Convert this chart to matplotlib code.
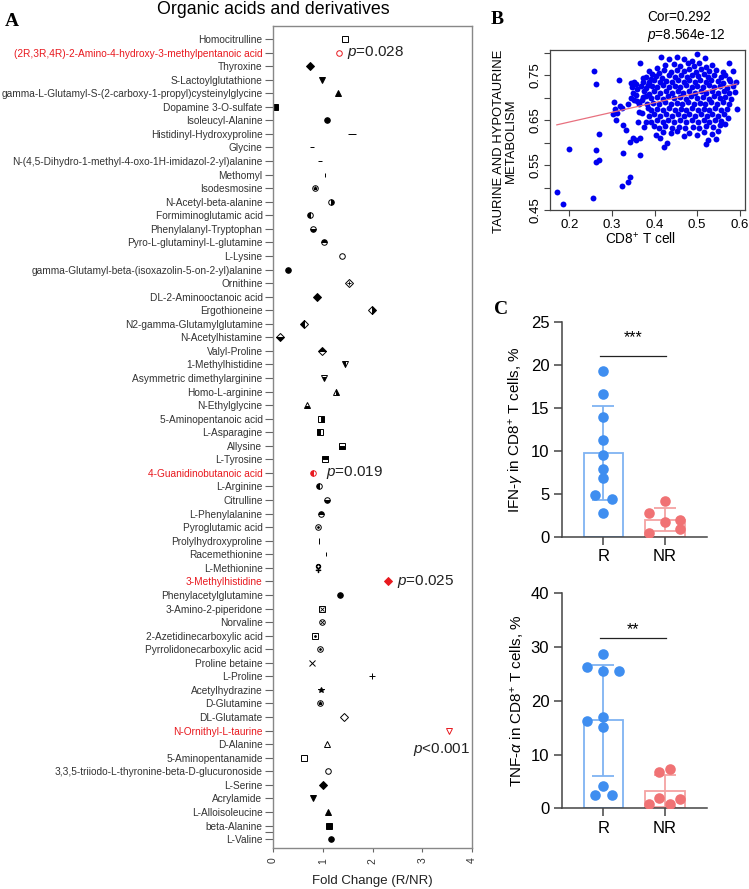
import numpy as np
import matplotlib
matplotlib.use('Agg')
import matplotlib.pyplot as plt

plt.rcParams['font.family'] = ['Liberation Sans', 'DejaVu Sans']
plt.rcParams['mathtext.fontset'] = 'custom'
plt.rcParams['mathtext.rm'] = 'Liberation Sans'
plt.rcParams['mathtext.it'] = 'Liberation Sans:italic'

# ---- panel A data ----
metabolites = [
    'Homocitrulline', '(2R,3R,4R)-2-Amino-4-hydroxy-3-methylpentanoic acid', 'Thyroxine',
    'S-Lactoylglutathione', 'gamma-L-Glutamyl-S-(2-carboxy-1-propyl)cysteinylglycine',
    'Dopamine 3-O-sulfate', 'Isoleucyl-Alanine', 'Histidinyl-Hydroxyproline', 'Glycine',
    'N-(4,5-Dihydro-1-methyl-4-oxo-1H-imidazol-2-yl)alanine', 'Methomyl', 'Isodesmosine',
    'N-Acetyl-beta-alanine', 'Formiminoglutamic acid', 'Phenylalanyl-Tryptophan',
    'Pyro-L-glutaminyl-L-glutamine', 'L-Lysine', 'gamma-Glutamyl-beta-(isoxazolin-5-on-2-yl)alanine',
    'Ornithine', 'DL-2-Aminooctanoic acid', 'Ergothioneine', 'N2-gamma-Glutamylglutamine',
    'N-Acetylhistamine', 'Valyl-Proline', '1-Methylhistidine', 'Asymmetric dimethylarginine',
    'Homo-L-arginine', 'N-Ethylglycine', '5-Aminopentanoic acid', 'L-Asparagine', 'Allysine',
    'L-Tyrosine', '4-Guanidinobutanoic acid', 'L-Arginine', 'Citrulline', 'L-Phenylalanine',
    'Pyroglutamic acid', 'Prolylhydroxyproline', 'Racemethionine', 'L-Methionine',
    '3-Methylhistidine', 'Phenylacetylglutamine', '3-Amino-2-piperidone', 'Norvaline',
    '2-Azetidinecarboxylic acid', 'Pyrrolidonecarboxylic acid', 'Proline betaine', 'L-Proline',
    'Acetylhydrazine', 'D-Glutamine', 'DL-Glutamate', 'N-Ornithyl-L-taurine', 'D-Alanine',
    '5-Aminopentanamide', '3,3,5-triiodo-L-thyronine-beta-D-glucuronoside', 'L-Serine',
    'Acrylamide', 'L-Alloisoleucine', 'beta-Alanine', 'L-Valine']
fold_change = [1.45, 1.33, 0.74, 0.99, 1.31, 0.05, 1.09, 1.59, 0.79, 0.94,
               1.05, 0.84, 1.17, 0.74, 0.80, 1.03, 1.39, 0.31, 1.53, 0.88,
               1.98, 0.63, 0.15, 0.99, 1.44, 1.03, 1.26, 0.68, 0.96, 0.94,
               1.38, 1.04, 0.80, 0.92, 1.09, 0.96, 0.91, 0.92, 1.07, 0.91,
               2.31, 1.35, 0.98, 0.99, 0.84, 0.94, 0.79, 1.98, 0.96, 0.94,
               1.42, 3.53, 1.08, 0.63, 1.11, 1.01, 0.80, 1.10, 1.13, 1.17]
significant = ['(2R,3R,4R)-2-Amino-4-hydroxy-3-methylpentanoic acid', '4-Guanidinobutanoic acid',
               '3-Methylhistidine', 'N-Ornithyl-L-taurine']

# marker styling per row (shape, fill)
shapes = ['s', 'o', 'D', 'v', '^', 's', 'o', '_', '_', '_', '|', 'o', 'o', 'o', 'o',
          'o', 'o', 'o', 'D', 'D', 'D', 'D', 'D', 'D', 'v', 'v', '^', '^', 's', 's',
          's', 's', 'o', 'o', 'o', 'o', 'o', '|', '|', '$♀$', 'D', 'o', 's', 'o', 's',
          'o', 'x', '+', '*', 'o', 'D', 'v', '^', 's', 'o', 'D', 'v', '^', 's', 'o']
fills = ['none', 'none', 'full', 'full', 'full', 'full', 'full', 'full', 'full', 'full',
         'full', 'none', 'right', 'left', 'bottom', 'top', 'none', 'full', 'none', 'full',
         'right', 'left', 'bottom', 'top', 'left', 'bottom', 'right', 'bottom', 'right', 'left',
         'bottom', 'top', 'left', 'left', 'bottom', 'top', 'none', 'full', 'full', 'full',
         'full', 'full', 'none', 'none', 'none', 'none', 'full', 'full', 'full', 'none',
         'none', 'none', 'none', 'none', 'none', 'full', 'full', 'full', 'full', 'full']
inner = {11: '*', 18: '+', 36: '.', 42: 'x', 43: 'x', 44: '.', 45: '.', 49: '*'}
sizes = {7: 6, 8: 3.5, 9: 3.5, 10: 3, 37: 4.5, 38: 2.5, 39: 6, 40: 4.0}

# ---- panel B data ----
cd8 = [0.258, 0.264, 0.367, 0.317, 0.306, 0.308, 0.302, 0.313, 0.319, 0.323, 0.309, 0.325,
       0.332, 0.337, 0.269, 0.199, 0.262, 0.264, 0.269, 0.327, 0.342, 0.350, 0.357, 0.367,
       0.367, 0.342, 0.338, 0.323, 0.256, 0.171, 0.186,
       0.345, 0.353, 0.357, 0.347, 0.360, 0.368, 0.373, 0.380, 0.374, 0.349, 0.357, 0.344,
       0.351, 0.360, 0.370, 0.364, 0.373, 0.384, 0.376, 0.364, 0.370, 0.385, 0.362, 0.380,
       0.375,
       0.500, 0.518, 0.452, 0.415, 0.434, 0.470, 0.488,
       0.574, 0.535, 0.505, 0.478, 0.445, 0.425, 0.460, 0.492, 0.520, 0.405,
       0.585, 0.560, 0.545, 0.528, 0.510, 0.497, 0.482, 0.468, 0.452, 0.438, 0.422, 0.410,
       0.395, 0.388,
       0.555, 0.540, 0.525, 0.515, 0.502, 0.488, 0.475, 0.462, 0.447, 0.433, 0.418, 0.403,
       0.392, 0.575, 0.565,
       0.590, 0.578, 0.548, 0.532, 0.520, 0.507, 0.494, 0.480, 0.468, 0.455, 0.441, 0.427,
       0.412, 0.398, 0.386, 0.560,
       0.583, 0.570, 0.553, 0.540, 0.527, 0.514, 0.500, 0.487, 0.473, 0.460, 0.447, 0.433,
       0.420, 0.406, 0.393, 0.380,
       0.588, 0.575, 0.562, 0.548, 0.535, 0.521, 0.508, 0.495, 0.481, 0.467, 0.454, 0.440,
       0.426, 0.413, 0.399, 0.386,
       0.580, 0.566, 0.553, 0.540, 0.527, 0.513, 0.500, 0.486, 0.473, 0.460, 0.446, 0.432,
       0.419, 0.405, 0.392, 0.380,
       0.575, 0.560, 0.546, 0.533, 0.519, 0.506, 0.492, 0.479, 0.465, 0.452, 0.438, 0.424,
       0.410, 0.397, 0.383,
       0.593, 0.570, 0.556, 0.542, 0.528, 0.515, 0.501, 0.488, 0.474, 0.461, 0.447, 0.433,
       0.420, 0.406, 0.392,
       0.563, 0.549, 0.535, 0.522, 0.508, 0.495, 0.481, 0.468, 0.454, 0.440, 0.427, 0.413,
       0.399, 0.387, 0.572,
       0.556, 0.542, 0.528, 0.515, 0.501, 0.487, 0.474, 0.460, 0.446, 0.432, 0.419, 0.405,
       0.392, 0.565,
       0.554, 0.537, 0.520, 0.505, 0.490, 0.472, 0.457, 0.440, 0.425, 0.410, 0.398,
       0.535, 0.515, 0.500, 0.482, 0.452, 0.438, 0.421, 0.404, 0.549, 0.469,
       0.521, 0.429, 0.423, 0.412, 0.525, 0.545]
taurine = [0.759, 0.731, 0.777, 0.740, 0.691, 0.676, 0.664, 0.666, 0.682, 0.677, 0.650, 0.639,
           0.628, 0.685, 0.619, 0.586, 0.585, 0.557, 0.561, 0.577, 0.601, 0.610, 0.606, 0.611,
           0.572, 0.525, 0.514, 0.504, 0.477, 0.491, 0.463,
           0.733, 0.734, 0.730, 0.723, 0.720, 0.727, 0.744, 0.746, 0.734, 0.711, 0.707, 0.700,
           0.695, 0.693, 0.696, 0.685, 0.701, 0.729, 0.715, 0.669, 0.666, 0.678, 0.647, 0.645,
           0.634,
           0.797, 0.788, 0.790, 0.790, 0.787, 0.785, 0.782,
           0.777, 0.773, 0.776, 0.778, 0.775, 0.772, 0.770, 0.771, 0.768, 0.766,
           0.759, 0.757, 0.762, 0.760, 0.763, 0.758, 0.764, 0.760, 0.762, 0.758, 0.761, 0.755,
           0.752, 0.760,
           0.747, 0.750, 0.745, 0.752, 0.748, 0.750, 0.745, 0.751, 0.747, 0.750, 0.744, 0.748,
           0.742, 0.742, 0.751,
           0.736, 0.738, 0.737, 0.740, 0.736, 0.739, 0.735, 0.740, 0.736, 0.739, 0.735, 0.738,
           0.736, 0.739, 0.735, 0.733,
           0.726, 0.722, 0.727, 0.724, 0.728, 0.723, 0.727, 0.724, 0.728, 0.723, 0.727, 0.724,
           0.728, 0.723, 0.727, 0.722,
           0.713, 0.710, 0.714, 0.711, 0.715, 0.710, 0.714, 0.711, 0.715, 0.710, 0.714, 0.711,
           0.715, 0.710, 0.714, 0.709,
           0.698, 0.702, 0.699, 0.703, 0.698, 0.702, 0.699, 0.703, 0.698, 0.702, 0.699, 0.703,
           0.698, 0.702, 0.699, 0.703,
           0.687, 0.690, 0.686, 0.690, 0.685, 0.689, 0.686, 0.690, 0.685, 0.689, 0.686, 0.690,
           0.685, 0.689, 0.686,
           0.674, 0.676, 0.673, 0.677, 0.672, 0.676, 0.673, 0.677, 0.672, 0.676, 0.673, 0.677,
           0.672, 0.676, 0.673,
           0.663, 0.660, 0.664, 0.659, 0.663, 0.660, 0.664, 0.659, 0.663, 0.660, 0.664, 0.659,
           0.663, 0.660, 0.656,
           0.648, 0.651, 0.647, 0.650, 0.646, 0.650, 0.647, 0.651, 0.647, 0.650, 0.646, 0.650,
           0.646, 0.641,
           0.640, 0.634, 0.637, 0.633, 0.636, 0.632, 0.636, 0.633, 0.637, 0.633, 0.638,
           0.620, 0.624, 0.618, 0.622, 0.626, 0.621, 0.624, 0.617, 0.626, 0.615,
           0.597, 0.600, 0.590, 0.610, 0.606, 0.609]
fit_slope = 0.215
fit_intercept = 0.603

# ---- panel C data ----
groups = ['R', 'NR']
ifng_R = [19.26, 16.59, 13.95, 11.24, 9.46, 7.91, 6.78, 4.84, 4.42, 2.71]
ifng_NR = [4.19, 2.71, 1.94, 1.74, 0.85, 0.39]
tnfa_R = [28.71, 26.36, 25.55, 25.55, 16.31, 17.05, 15.07, 4.16, 2.48, 2.48]
tnfa_NR = [6.82, 7.32, 1.86, 1.67, 0.74, 0.74]

# jitter offsets (layout only)
ifng_R_off = [0, 0, 0, 0, 0, 0, 0, -0.14, 0.14, 0]
ifng_NR_off = [0, -0.26, 0.25, 0, 0.25, -0.26]
tnfa_R_off = [0, -0.26, 0, 0.26, -0.26, 0, 0, 0, -0.14, 0.14]
tnfa_NR_off = [-0.09, 0.08, -0.09, 0.25, -0.26, 0.08]

red = '#e8191f'
fig = plt.figure(figsize=(7.49, 8.89), dpi=100)

# ================= A =================
axA = fig.add_axes([0.3645, 0.0461, 0.2657, 0.9247])
for i, (name, fc) in enumerate(zip(metabolites, fold_change)):
    col = red if name in significant else 'black'
    ms = sizes.get(i, 3.6 if shapes[i] == 'D' else 4)
    axA.plot(fc, i, marker=shapes[i], fillstyle=fills[i], color=col, mfc=col,
             mfcalt='white', mec=col, ms=ms, mew=0.7, ls='none')
    if i in inner:
        axA.plot(fc, i, marker=inner[i], color=col, ms=2.6, mew=0.6, ls='none')
axA.set_xlim(0, 4)
axA.set_ylim(59.66, -0.96)
axA.set_yticks(range(len(metabolites)))
axA.set_yticklabels(metabolites, fontsize=7.25, color='#333333')
for lbl in axA.get_yticklabels():
    if lbl.get_text() in significant:
        lbl.set_color(red)
axA.set_yticks([58.5], minor=True)
axA.set_xticks([0, 1, 2, 3, 4])
axA.set_xticklabels(['0', '1', '2', '3', '4'], rotation=90, fontsize=7.5, color='#333333')
axA.tick_params(axis='y', which='both', length=5.5, width=0.8, color='#666666', pad=2)
axA.tick_params(axis='x', length=3, width=0.8, color='#666666', pad=4)
for s in axA.spines.values():
    s.set_color('#888888')
    s.set_linewidth(1.0)
axA.set_xlabel('Fold Change (R/NR)', fontsize=9.5, labelpad=8, color='#222222')

ptxt = dict(fontsize=11, va='center', ha='left', color='#222222')
axA.text(1.49, 1, r'$\it{p}$=0.028', **ptxt)
axA.text(1.06, 32, r'$\it{p}$=0.019', **ptxt)
axA.text(2.50, 40, r'$\it{p}$=0.025', **ptxt)
axA.text(2.81, 52.4, r'$\it{p}$<0.001', **ptxt)

fig.text(273.5 / 749, 1 - 9 / 889, 'Organic acids and derivatives', ha='center', va='center',
         fontsize=12.8)
fig.text(12 / 749, 1 - 22 / 889, 'A', ha='center', va='center', fontsize=14,
         fontweight='bold', family='Liberation Serif')

# ================= B =================
axB = fig.add_axes([0.7343, 0.7634, 0.2603, 0.1809])
axB.scatter(cd8, taurine, s=18, color='#0000f0', linewidths=0, zorder=2)
xl = np.array([min(cd8), max(cd8)])
axB.plot(xl, fit_intercept + fit_slope * xl, color='#e8707f', lw=0.9, zorder=3)
axB.set_xlim(0.155, 0.612)
axB.set_ylim(0.45, 0.807)
axB.set_xticks([0.2, 0.3, 0.4, 0.5, 0.6])
axB.set_xticklabels(['0.2', '0.3', '0.4', '0.5', '0.6'], fontsize=9.5)
yt = [0.45, 0.50, 0.55, 0.60, 0.65, 0.70, 0.75, 0.80]
axB.set_yticks(yt)
axB.set_yticklabels(['0.45', '', '0.55', '', '0.65', '', '0.75', ''], fontsize=9.5,
                    rotation=90, va='center')
axB.tick_params(length=4, width=0.8, color='#444444', pad=2)
for s in axB.spines.values():
    s.set_color('#444444')
    s.set_linewidth(0.9)
fig.text(640 / 749, 1 - 239 / 889, 'CD8$^{+}$ T cell', ha='center', va='center', fontsize=9.8)
fig.text(505 / 749, 1 - 141 / 889, 'TAURINE AND HYPOTAURINE\nMETABOLISM', ha='center',
         va='center', rotation=90, fontsize=9.4, linespacing=1.05)
fig.text(679 / 749, 1 - 17 / 889, 'Cor=0.292', ha='center', va='center', fontsize=9.8)
fig.text(686 / 749, 1 - 35 / 889, r'$\it{p}$=8.564e-12', ha='center', va='center', fontsize=9.8)
fig.text(497 / 749, 1 - 19 / 889, 'B', ha='center', va='center', fontsize=14,
         fontweight='bold', family='Liberation Serif')


# ================= C =================
def bar_panel(rect, r_vals, nr_vals, r_off, nr_off, ymax, ystep, ylabel, sig, sig_y, sig_txt_y):
    ax = fig.add_axes(rect)
    data = [r_vals, nr_vals]
    offs = [r_off, nr_off]
    edge = ['#7fb3f2', '#f5a3a3']
    dots = ['#3f8ef0', '#f07274']
    for k, vals in enumerate(data):
        m = np.mean(vals)
        sd = np.std(vals, ddof=1)
        ax.bar(k, m, width=0.64, color='white', edgecolor=edge[k], linewidth=1.3, zorder=1)
        ax.errorbar(k, m, yerr=sd, color=edge[k], capsize=8, elinewidth=1.3,
                    capthick=1.3, zorder=2)
        ax.scatter(np.array(offs[k]) + k, vals, s=58, color=dots[k], linewidths=0, zorder=3)
    ax.plot([-0.05, 1.02], [sig_y, sig_y], color='#222222', lw=0.9)
    ax.text(0.48, sig_txt_y, sig, ha='center', va='center', fontsize=11.5)
    ax.set_xlim(-0.674, 1.676)
    ax.set_ylim(0, ymax)
    ax.set_yticks(np.arange(0, ymax + 0.1, ystep))
    ax.set_xticks([0, 1])
    ax.set_xticklabels(groups, fontsize=12)
    ax.tick_params(labelsize=12, length=6, width=1.1, color='#444444', pad=3)
    for s in ['top', 'right']:
        ax.spines[s].set_visible(False)
    for s in ['left', 'bottom']:
        ax.spines[s].set_color('#444444')
        ax.spines[s].set_linewidth(1.1)
    ax.set_ylabel(ylabel, fontsize=11, labelpad=3)
    return ax


bar_panel([0.75, 0.3963, 0.1936, 0.2418], ifng_R, ifng_NR, ifng_R_off, ifng_NR_off,
          25, 5, r'IFN-$\it{\gamma}$ in CD8$^{+}$ T cells, %', '***', 21.0, 23.2)
bar_panel([0.75, 0.0908, 0.1936, 0.2418], tnfa_R, tnfa_NR, tnfa_R_off, tnfa_NR_off,
          40, 10, r'TNF-$\it{\alpha}$ in CD8$^{+}$ T cells, %', '**', 31.6, 33.3)
fig.text(501 / 749, 1 - 310 / 889, 'C', ha='center', va='center', fontsize=14,
         fontweight='bold', family='Liberation Serif')

fig.savefig('out.png', dpi=100)
